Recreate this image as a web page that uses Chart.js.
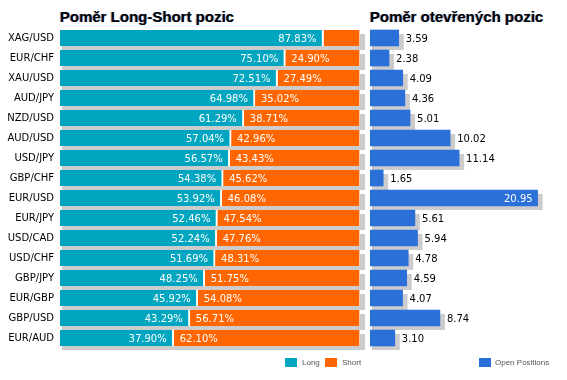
<!DOCTYPE html>
<html>
<head>
<meta charset="utf-8">
<script src="https://cdn.jsdelivr.net/npm/chart.js@4.4.1/dist/chart.umd.min.js"></script>
<style>
  html, body { margin:0; padding:0; background:#fff; }
  body { width:567px; height:380px; position:relative; overflow:hidden; font-family:"Liberation Sans", Arial, sans-serif; }
  .title { position:absolute; top:9px; font-weight:bold; font-size:15px; line-height:15px; color:#000; white-space:nowrap;
           text-shadow:-1px 0 0 rgba(20,60,150,0.55); }
  canvas { position:absolute; top:0; }
  .lg { position:absolute; top:358px; height:9px; }
  .sw { position:absolute; width:12px; height:9px; top:0; }
  .lt { position:absolute; top:-1px; font-size:8px; line-height:11px; color:#555; white-space:nowrap; }
</style>
</head>
<body>
<div class="title" style="left:60px">Poměr Long-Short pozic</div>
<div class="title" style="left:370px">Poměr otevřených pozic</div>
<canvas id="c1" width="370" height="380" style="left:0"></canvas>
<canvas id="c2" width="202" height="380" style="left:365px"></canvas>
<div class="lg" style="left:285px"><div class="sw" style="left:0;background:#00A6BF"></div><div class="lt" style="left:17px">Long</div></div>
<div class="lg" style="left:325px"><div class="sw" style="left:0;background:#FF6600"></div><div class="lt" style="left:17px">Short</div></div>
<div class="lg" style="left:479px"><div class="sw" style="left:0;background:#2B70D9"></div><div class="lt" style="left:16px">Open Positions</div></div>
<script>
const pairs = ["XAG/USD","EUR/CHF","XAU/USD","AUD/JPY","NZD/USD","AUD/USD","USD/JPY","GBP/CHF","EUR/USD","EUR/JPY","USD/CAD","USD/CHF","GBP/JPY","EUR/GBP","GBP/USD","EUR/AUD"];
const longPct = [87.83,75.10,72.51,64.98,61.29,57.04,56.57,54.38,53.92,52.46,52.24,51.69,48.25,45.92,43.29,37.90];
const shortPct = [12.17,24.90,27.49,35.02,38.71,42.96,43.43,45.62,46.08,47.54,47.76,48.31,51.75,54.08,56.71,62.10];
const openPos = [3.59,2.38,4.09,4.36,5.01,10.02,11.14,1.65,20.95,5.61,5.94,4.78,4.59,4.07,8.74,3.10];

const TEAL = "#00A6BF", ORANGE = "#FF6600", BLUE = "#2B70D9", SHADOW = "#CCCCCC";
const VFONT = '10px "DejaVu Sans", Verdana, sans-serif';

const shadowPlugin = {
  id: 'shadow',
  beforeDatasetsDraw(chart, args, opts) {
    const ctx = chart.ctx;
    ctx.save();
    ctx.fillStyle = SHADOW;
    chart.data.datasets.forEach((ds, i) => {
      const meta = chart.getDatasetMeta(i);
      meta.data.forEach(el => {
        const p = el.getProps(['x','y','base','height'], true);
        const l = Math.min(p.x, p.base), r = Math.max(p.x, p.base);
        const t = p.y - p.height/2;
        ctx.fillRect(l + 2, t + 4, r - l + opts.extra, p.height);
      });
    });
    ctx.restore();
  }
};

const lsLabels = {
  id: 'lsLabels',
  afterDatasetsDraw(chart) {
    const ctx = chart.ctx;
    ctx.save();
    ctx.font = VFONT;
    ctx.fillStyle = '#fff';
    ctx.textBaseline = 'middle';
    chart.data.datasets.forEach((ds, i) => {
      const meta = chart.getDatasetMeta(i);
      meta.data.forEach((el, j) => {
        const p = el.getProps(['x','y','base'], true);
        const txt = ds.data[j].toFixed(2) + '%';
        const w = ctx.measureText(txt).width;
        const bw = Math.abs(p.x - p.base);
        if (w + 10 > bw) return;
        if (i === 0) { ctx.textAlign = 'right'; ctx.fillText(txt, p.x - 7, p.y + 1); }
        else { ctx.textAlign = 'left'; ctx.fillText(txt, p.base + 6, p.y + 1); }
      });
    });
    ctx.restore();
  }
};

const opLabels = {
  id: 'opLabels',
  afterDatasetsDraw(chart) {
    const ctx = chart.ctx;
    ctx.save();
    ctx.font = VFONT;
    ctx.textBaseline = 'middle';
    const meta = chart.getDatasetMeta(0);
    meta.data.forEach((el, j) => {
      const p = el.getProps(['x','y'], true);
      const txt = openPos[j].toFixed(2);
      const w = ctx.measureText(txt).width;
      if (p.x + 7 + w > chart.width - 1) {
        ctx.fillStyle = '#fff'; ctx.textAlign = 'right';
        ctx.fillText(txt, p.x - 5, p.y + 1);
      } else {
        ctx.fillStyle = '#000'; ctx.textAlign = 'left';
        ctx.fillText(txt, p.x + 7, p.y + 1);
      }
    });
    ctx.restore();
  }
};

new Chart(document.getElementById('c1'), {
  type: 'bar',
  data: {
    labels: pairs,
    datasets: [
      { label: 'Long', data: longPct, backgroundColor: TEAL, borderColor: '#fff',
        borderWidth: {top:0,left:0,bottom:0,right:2}, borderSkipped: false, barThickness: 16 },
      { label: 'Short', data: shortPct, backgroundColor: ORANGE, borderColor: '#fff',
        borderWidth: {top:0,left:0,bottom:0,right:1}, borderSkipped: false, barThickness: 16 }
    ]
  },
  options: {
    indexAxis: 'y',
    responsive: false,
    animation: false,
    devicePixelRatio: 1,
    layout: { padding: { left: 0, right: 10, top: 28, bottom: 32 } },
    plugins: { legend: { display: false }, tooltip: { enabled: false }, title: { display: false }, shadow: { extra: 3 } },
    scales: {
      x: { stacked: true, min: 0, max: 100, display: false },
      y: {
        stacked: true,
        grid: { display: false, drawTicks: false },
        border: { display: false },
        ticks: { color: '#000', font: { family: '"DejaVu Sans", Verdana, sans-serif', size: 10 }, padding: 6, crossAlign: 'near' },
        afterFit(scale) { scale.width = 60; }
      }
    }
  },
  plugins: [shadowPlugin, lsLabels]
});

new Chart(document.getElementById('c2'), {
  type: 'bar',
  data: {
    labels: pairs,
    datasets: [
      { label: 'Open Positions', data: openPos, backgroundColor: BLUE, borderWidth: 0, barThickness: 16 }
    ]
  },
  options: {
    indexAxis: 'y',
    responsive: false,
    animation: false,
    devicePixelRatio: 1,
    layout: { padding: { left: 5, right: 29, top: 28, bottom: 32 } },
    plugins: { legend: { display: false }, tooltip: { enabled: false }, title: { display: false }, shadow: { extra: 3 } },
    scales: {
      x: { min: 0, max: 21, display: false },
      y: { display: false }
    }
  },
  plugins: [shadowPlugin, opLabels]
});
</script>
</body>
</html>
